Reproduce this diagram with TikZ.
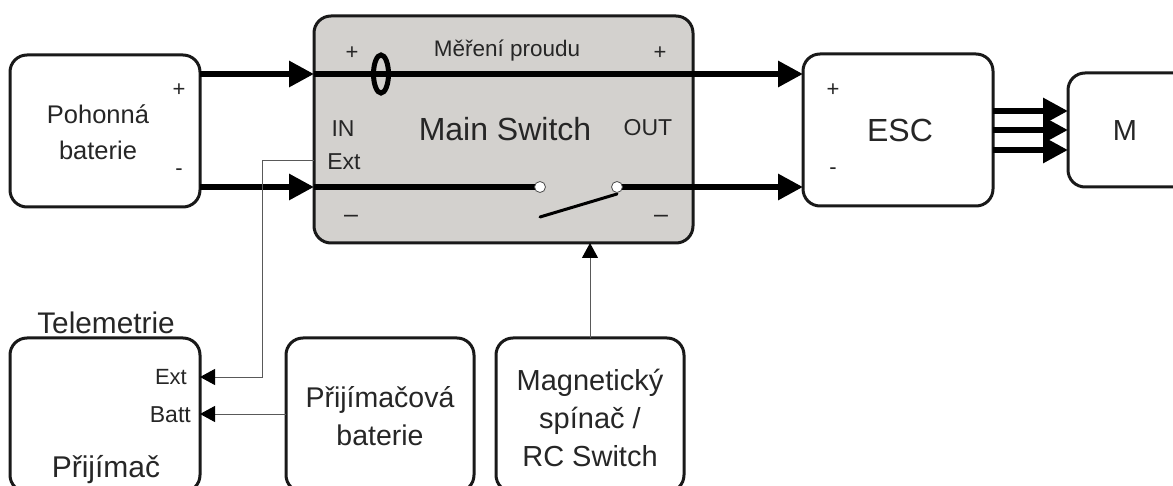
\documentclass[tikz,border=0pt]{standalone}
\usepackage{fontspec}
\setmainfont{Liberation Sans}
\usetikzlibrary{arrows.meta,calc}
\definecolor{mainfill}{HTML}{D3D1CE}
\newcommand{\fs}[1]{\fontsize{#1}{#1}\selectfont}
\tikzset{
  x=1pt,y=-1pt,
  block/.style={draw=black!90,line width=3pt,rounded corners=17pt,fill=white,inner sep=0pt,outer sep=0pt,anchor=north west},
  lbl/.style={inner sep=0pt,align=center,text=black!85},
  power/.style={line width=6pt,draw=black,-{Triangle[length=25pt,width=25pt]}},
  powerline/.style={line width=6pt,draw=black},
  signal/.style={line width=1pt,draw=black!65,-{Triangle[length=15pt,width=16pt,color=black]}},
  term/.style={circle,draw=black!70,fill=white,line width=.8pt,minimum size=11pt,inner sep=0pt},
}
\begin{document}
\begin{tikzpicture}
\useasboundingbox (0,0) rectangle (1173,486);
\clip (0,0) rectangle (1173,486);
% blocks
\node[block,minimum width=190pt,minimum height=152pt] (batt) at (10,55) {};
\node[block,fill=mainfill,minimum width=379pt,minimum height=227pt] (main) at (314,16) {};
\node[block,minimum width=190pt,minimum height=152pt] (esc) at (803,54) {};
\node[block,minimum width=125pt,minimum height=114pt] (motor) at (1068,73) {};
\node[block,minimum width=190pt,minimum height=154pt] (rx) at (10,338) {};
\node[block,minimum width=188pt,minimum height=154pt] (rxbatt) at (286,338) {};
\node[block,minimum width=188pt,minimum height=154pt] (mag) at (496,338) {};
% anchor points
\coordinate (swL) at (540,187);
\coordinate (swR) at (617,187);
\coordinate (swE) at (540,217);
\coordinate (swT) at (617,194);
\coordinate (extbend) at (262,161);
\coordinate (extbend2) at (262,377);
% power lines
\draw[power] (batt.east |- 0,74) -- (main.west |- 0,74);
\draw[power] (main.west |- 0,74) -- (esc.west |- 0,74);
\draw[power] (batt.east |- 0,187) -- (main.west |- 0,187);
\draw[powerline] (main.west |- 0,187) -- (swL);
\draw[power] (swR) -- (esc.west |- 0,187);
\draw[line width=3pt,line cap=round] (swE) -- (swT);
\node[term] (tL) at (swL) {};
\node[term] (tR) at (swR) {};
% motor phases
\draw[power] (esc.east |- 0,111) -- (motor.west |- 0,111);
\draw[power] (esc.east |- 0,130) -- (motor.west |- 0,130);
\draw[power] (esc.east |- 0,150) -- (motor.west |- 0,150);
% current sensor
\draw[line width=5pt] (381,74) ellipse [x radius=7.5pt,y radius=19pt];
% signals
\draw[signal] (main.west |- 0,161) -- (extbend) -- (extbend2) -- (rx.east |- 0,377);
\draw[signal] (rxbatt.west |- 0,414) -- (rx.east |- 0,414);
\draw[signal] (mag.north -| 590,0) -- (main.south -| 590,0);
% texts
\node[lbl,font=\fs{25.5}] (t1) at (98,132) {Pohonná\\[10pt]baterie};
\node[lbl,font=\fs{22}] (t2) at (179,90) {+};
\node[lbl,font=\fs{22}] (t3) at (179,172) {-};
\node[lbl,font=\fs{22.5}] (t4) at (507,51) {Měření proudu};
\node[lbl,font=\fs{22}] (t5) at (352,53) {+};
\node[lbl,font=\fs{22}] (t6) at (660,53) {+};
\node[lbl,font=\fs{23}] (t7) at (343,129) {IN};
\node[lbl,font=\fs{23}] (t8) at (648,128) {OUT};
\node[lbl,font=\fs{32}] (t9) at (505,129) {Main Switch};
\node[lbl,font=\fs{23}] (t10) at (344,162) {Ext};
\node[lbl,font=\fs{25}] (t11) at (351,219) {–};
\node[lbl,font=\fs{25}] (t12) at (661,219) {–};
\node[lbl,font=\fs{22}] (t13) at (833,90) {+};
\node[lbl,font=\fs{22}] (t14) at (833,171) {-};
\node[lbl,font=\fs{32}] (t15) at (900,130) {ESC};
\node[lbl,font=\fs{29}] (t16) at (1125,131) {M};
\node[lbl,font=\fs{29.8}] (t17) at (106,323) {Telemetrie};
\node[lbl,font=\fs{22},anchor=east] (t18) at (187,377) {Ext};
\node[lbl,font=\fs{23},anchor=east] (t19) at (191,415) {Batt};
\node[lbl,font=\fs{30}] (t20) at (106,470) {Přijímač};
\node[lbl,font=\fs{28.5}] (t21) at (380,416) {Přijímačová\\[9pt]baterie};
\node[lbl,font=\fs{29}] (t22) at (590,418) {Magnetický\\[9pt]spínač /\\[9pt]RC Switch};
\end{tikzpicture}
\end{document}
